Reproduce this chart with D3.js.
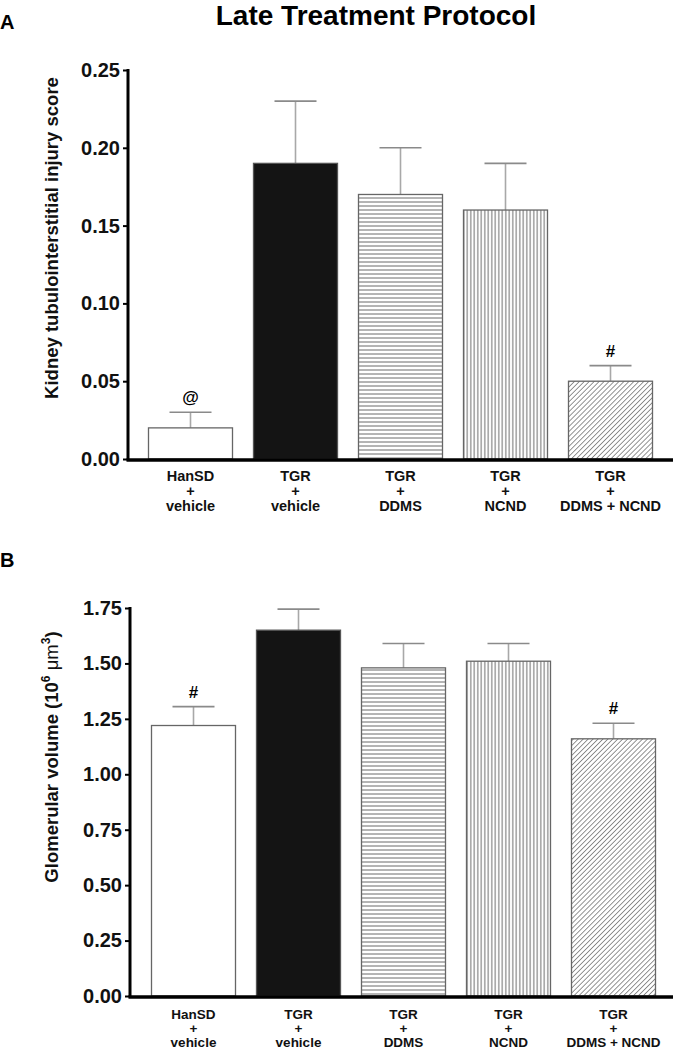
<!DOCTYPE html>
<html>
<head>
<meta charset="utf-8">
<script src="https://cdn.jsdelivr.net/npm/d3@7"></script>
<style>
  html, body { margin: 0; padding: 0; background: #fff; }
  svg { display: block; }
  text { font-family: "Liberation Sans", Arial, Helvetica, sans-serif; }
</style>
</head>
<body>
<svg id="chart" width="675" height="1050"></svg>
<script>
// ---- data ----
const categories = ["HanSD|+|vehicle", "TGR|+|vehicle", "TGR|+|DDMS", "TGR|+|NCND", "TGR|+|DDMS + NCND"];
const injuryMeans = [0.02, 0.19, 0.17, 0.16, 0.05];
const injuryErrors = [0.01, 0.04, 0.03, 0.03, 0.01];
const injuryMarks = ["@", "", "", "", "#"];
const injuryTicks = [0.00, 0.05, 0.10, 0.15, 0.20, 0.25];
const volumeMeans = [1.22, 1.65, 1.48, 1.51, 1.16];
const volumeErrors = [0.085, 0.095, 0.11, 0.08, 0.07];
const volumeMarks = ["#", "", "", "", "#"];
const volumeTicks = [0.00, 0.25, 0.50, 0.75, 1.00, 1.25, 1.50, 1.75];
const fills = ["white", "black", "hlines", "vlines", "diag"];

const svg = d3.select("#chart");
const defs = svg.append("defs");

// patterns
const ph = defs.append("pattern").attr("id", "hlines").attr("patternUnits", "userSpaceOnUse")
  .attr("width", 8).attr("height", 4);
ph.append("rect").attr("width", 8).attr("height", 4).attr("fill", "#fff");
ph.append("line").attr("x1", 0).attr("x2", 8).attr("y1", 2).attr("y2", 2)
  .attr("stroke", "#6a6a6a").attr("stroke-width", 1);

const pv = defs.append("pattern").attr("id", "vlines").attr("patternUnits", "userSpaceOnUse")
  .attr("width", 3.5).attr("height", 8);
pv.append("rect").attr("width", 3.5).attr("height", 8).attr("fill", "#fff");
pv.append("line").attr("y1", 0).attr("y2", 8).attr("x1", 1.75).attr("x2", 1.75)
  .attr("stroke", "#6a6a6a").attr("stroke-width", 1);

const pd = defs.append("pattern").attr("id", "diag").attr("patternUnits", "userSpaceOnUse")
  .attr("width", 3.5).attr("height", 3.5).attr("patternTransform", "rotate(45)");
pd.append("rect").attr("width", 3.5).attr("height", 3.5).attr("fill", "#fff");
pd.append("line").attr("x1", 0).attr("x2", 0).attr("y1", 0).attr("y2", 3.5)
  .attr("stroke", "#666").attr("stroke-width", 1.4);

function fillFor(f) {
  if (f === "white") return "#fff";
  if (f === "black") return "#141414";
  return "url(#" + f + ")";
}

// titles
svg.append("text").attr("x", 376).attr("y", 25).attr("text-anchor", "middle")
  .attr("font-size", 28).attr("font-weight", "bold").text("Late Treatment Protocol");

function panel(cfg) {
  const x = d3.scaleBand().domain(categories).range(cfg.xRange)
    .paddingInner(0.2).paddingOuter(0.1);
  const y = d3.scaleLinear().domain(cfg.domain).range(cfg.yRange);
  const g = svg.append("g");

  // panel letter
  svg.append("text").attr("x", 0).attr("y", cfg.letterY)
    .attr("font-size", 20).attr("font-weight", "bold").text(cfg.letter);

  // error bars
  const eb = g.selectAll("g.err").data(categories).join("g").attr("class", "err");
  eb.append("line")
    .attr("x1", d => x(d) + x.bandwidth() / 2).attr("x2", d => x(d) + x.bandwidth() / 2)
    .attr("y1", (d, i) => y(cfg.means[i])).attr("y2", (d, i) => y(cfg.means[i] + cfg.errors[i]))
    .attr("stroke", "#a8a8a8").attr("stroke-width", 1.6);
  eb.append("line")
    .attr("x1", d => x(d) + x.bandwidth() / 4).attr("x2", d => x(d) + x.bandwidth() * 3 / 4)
    .attr("y1", (d, i) => y(cfg.means[i] + cfg.errors[i])).attr("y2", (d, i) => y(cfg.means[i] + cfg.errors[i]))
    .attr("stroke", "#8a8a8a").attr("stroke-width", 1.6);

  // bars
  g.selectAll("rect.bar").data(categories).join("rect").attr("class", "bar")
    .attr("x", d => x(d)).attr("width", x.bandwidth())
    .attr("y", (d, i) => y(cfg.means[i]))
    .attr("height", (d, i) => y(0) - y(cfg.means[i]))
    .attr("fill", (d, i) => fillFor(fills[i]))
    .attr("stroke", (d, i) => fills[i] === "black" ? "#555" : "#666")
    .attr("stroke-width", 1.3);

  // significance marks
  g.selectAll("text.mark").data(categories).join("text").attr("class", "mark")
    .attr("x", d => x(d) + x.bandwidth() / 2)
    .attr("y", (d, i) => y(cfg.means[i] + cfg.errors[i]) - 9)
    .attr("text-anchor", "middle").attr("font-size", 17).attr("font-weight", "bold")
    .text((d, i) => cfg.marks[i]);

  // y axis
  const yAxis = d3.axisLeft(y).tickValues(cfg.ticks).tickFormat(d3.format(".2f"))
    .tickSize(5).tickPadding(3);
  const ya = g.append("g").attr("transform", `translate(${cfg.axisX},0)`).call(yAxis);
  ya.select(".domain").remove();
  ya.selectAll(".tick line").attr("stroke", "#000").attr("stroke-width", 2);
  ya.selectAll(".tick text").attr("font-size", 20).attr("font-weight", "bold")
    .attr("font-family", "Liberation Sans, Arial, sans-serif").attr("fill", "#111");
  g.append("line").attr("x1", cfg.axisX).attr("x2", cfg.axisX)
    .attr("y1", y(cfg.domain[1]) - 1).attr("y2", y(0) + 1.5)
    .attr("stroke", "#000").attr("stroke-width", 3);

  // x axis line
  g.append("line").attr("x1", cfg.axisX - 1.5).attr("x2", cfg.axisEnd)
    .attr("y1", y(0) + 1).attr("y2", y(0) + 1)
    .attr("stroke", "#000").attr("stroke-width", 3.5);

  // category labels
  const cl = g.selectAll("text.cat").data(categories).join("text").attr("class", "cat")
    .attr("text-anchor", "middle").attr("font-size", cfg.labelSize).attr("font-weight", "bold").attr("fill", "#111");
  cl.each(function (d) {
    const t = d3.select(this);
    d.split("|").forEach((s, k) => {
      t.append("tspan").attr("x", x(d) + x.bandwidth() / 2)
        .attr("y", cfg.labelY + k * cfg.labelGap).text(s);
    });
  });

  // y label
  const yl = svg.append("text")
    .attr("transform", `translate(${cfg.ylabelX},${cfg.ylabelY}) rotate(-90)`)
    .attr("text-anchor", "middle").attr("font-size", 18.5).attr("font-weight", "bold").attr("fill", "#111");
  cfg.ylabel(yl);
}

panel({
  letter: "A", letterY: 29,
  xRange: [138, 663], axisX: 128, axisEnd: 673,
  domain: [0, 0.25], yRange: [459, 70],
  means: injuryMeans, errors: injuryErrors, marks: injuryMarks, ticks: injuryTicks,
  labelY: 481, labelGap: 15, labelSize: 14.5,
  ylabelX: 58, ylabelY: 238,
  ylabel: t => t.text("Kidney tubulointerstitial injury score")
});

panel({
  letter: "B", letterY: 567,
  xRange: [141, 666], axisX: 130, axisEnd: 673,
  domain: [0, 1.75], yRange: [996, 608],
  means: volumeMeans, errors: volumeErrors, marks: volumeMarks, ticks: volumeTicks,
  labelY: 1019, labelGap: 14, labelSize: 13.5,
  ylabelX: 58, ylabelY: 757,
  ylabel: t => {
    t.append("tspan").text("Glomerular volume (10");
    t.append("tspan").attr("font-size", 12).attr("dy", -8).text("6");
    t.append("tspan").attr("dy", 8).attr("font-weight", "normal").text(" \u03BCm");
    t.append("tspan").attr("font-size", 12).attr("dy", -8).text("3");
    t.append("tspan").attr("dy", 8).text(")");
  }
});
</script>
</body>
</html>
